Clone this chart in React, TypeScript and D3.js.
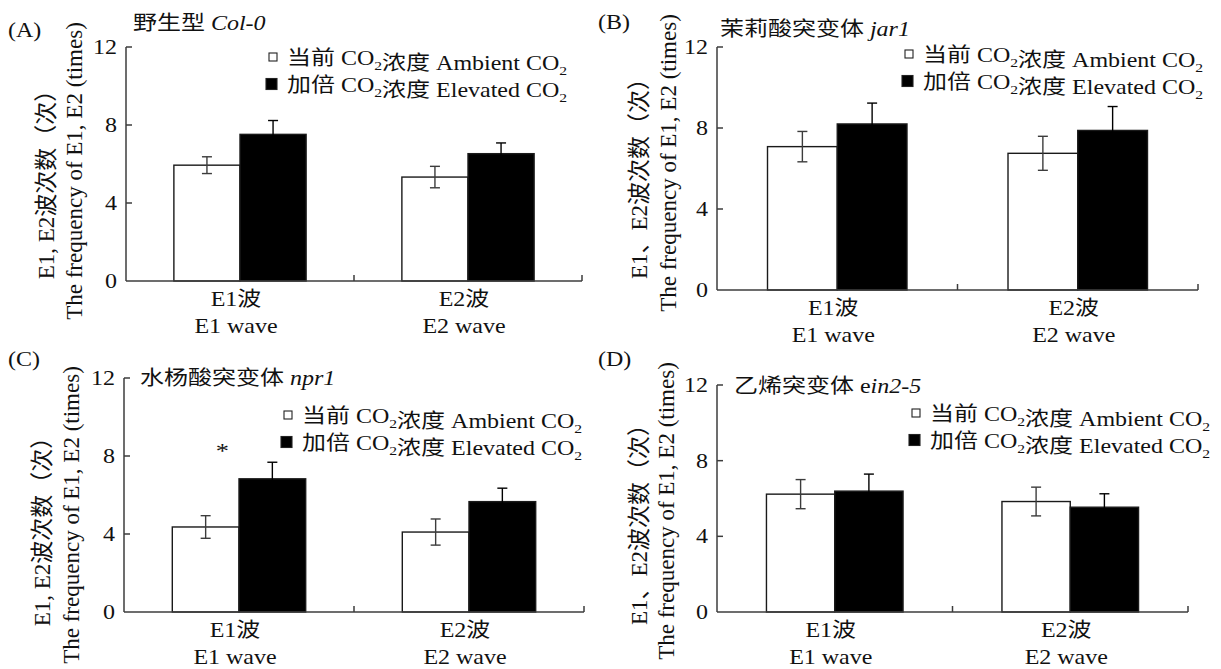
import React, { useEffect, useRef } from 'react';
import * as d3 from 'd3';

// categories / tick labels
const categories = ['E1', 'E2'];
const categoryCn = ['E1波', 'E2波'];
const categoryEn = ['E1 wave', 'E2 wave'];
const treatments = ['ambient', 'elevated'];
const yTicks = [0, 4, 8, 12];

// (A) Col-0
const col0Ambient = [5.94, 5.33];
const col0AmbientSe = [0.43, 0.55];
const col0Elevated = [7.52, 6.53];
const col0ElevatedSe = [0.71, 0.55];
// (B) jar1
const jar1Ambient = [7.08, 6.75];
const jar1AmbientSe = [0.75, 0.84];
const jar1Elevated = [8.2, 7.88];
const jar1ElevatedSe = [1.03, 1.18];
// (C) npr1
const npr1Ambient = [4.36, 4.1];
const npr1AmbientSe = [0.58, 0.67];
const npr1Elevated = [6.83, 5.66];
const npr1ElevatedSe = [0.85, 0.69];
const npr1Marks = ['*', ''];
// (D) ein2-5
const ein2Ambient = [6.23, 5.84];
const ein2AmbientSe = [0.77, 0.76];
const ein2Elevated = [6.39, 5.54];
const ein2ElevatedSe = [0.9, 0.71];

const letters = ['(A)', '(B)', '(C)', '(D)'];
const titleCn = ['野生型 ', '茉莉酸突变体 ', '水杨酸突变体 ', '乙烯突变体 e'];
const titleGene = ['Col-0', 'jar1', 'npr1', 'in2-5'];
const yLabelCn = ['E1, E2波次数（次）', 'E1、E2波次数（次）', 'E1, E2波次数（次）', 'E1、E2波次数（次）'];
const yLabelEn = 'The frequency of E1, E2 (times)';

const panels = [
  { mean: [col0Ambient, col0Elevated], se: [col0AmbientSe, col0ElevatedSe], marks: ['', ''] },
  { mean: [jar1Ambient, jar1Elevated], se: [jar1AmbientSe, jar1ElevatedSe], marks: ['', ''] },
  { mean: [npr1Ambient, npr1Elevated], se: [npr1AmbientSe, npr1ElevatedSe], marks: npr1Marks },
  { mean: [ein2Ambient, ein2Elevated], se: [ein2AmbientSe, ein2ElevatedSe], marks: ['', ''] },
];

// where each panel sits on the page
const layout = [
  { left: 126, right: 582, y0: 281, y12: 47, letterX: 8, letterY: 37, titleX: 133, titleY: 30, legX: 277, legY: 57, lab1X: 46, lab2X: 74, lab1Y: 179, lab2Y: 171 },
  { left: 717, right: 1198, y0: 290, y12: 47, letterX: 598, letterY: 29, titleX: 720, titleY: 36, legX: 913, legY: 54, lab1X: 639, lab2X: 668, lab1Y: 173, lab2Y: 163 },
  { left: 124, right: 584, y0: 612, y12: 378, letterX: 8, letterY: 366, titleX: 140, titleY: 385, legX: 292, legY: 415, lab1X: 42, lab2X: 71, lab1Y: 526, lab2Y: 515 },
  { left: 717, right: 1188, y0: 612, y12: 385, letterX: 598, letterY: 366, titleX: 734, titleY: 393, legX: 920, legY: 413, lab1X: 639, lab2X: 666, lab1Y: 519, lab2Y: 511 },
];

const FONT = "'Liberation Serif', 'Times New Roman', 'Noto Sans CJK SC', serif";
const AXIS = '#3c3c3c';
const STRETCH = 1.2; // the source figure is drawn a little wide

export default function App() {
  const ref = useRef<SVGSVGElement | null>(null);

  useEffect(() => {
    const svg = d3.select(ref.current);
    svg.selectAll('*').remove();
    panels.forEach((p, i) => drawPanel(svg, p, layout[i], i));
  }, []);

  return (
    <svg ref={ref} width={1221} height={669}
      style={{ position: 'absolute', left: 0, top: 0, background: '#fff' }} />
  );
}

// horizontal text, widened like the original
function htext(g: any, x: number, y: number, size: number, anchor = 'start') {
  return g.append('text')
    .attr('transform', `translate(${x},${y}) scale(${STRETCH},1)`)
    .attr('text-anchor', anchor)
    .attr('font-size', size);
}

function co2Text(sel: any, parts: string[]) {
  // each piece but the last is followed by CO with a subscript 2
  parts.forEach((t, k) => {
    sel.append('tspan').text(t);
    if (k < parts.length - 1) {
      sel.append('tspan').text('CO');
      sel.append('tspan').attr('font-size', 13).attr('dy', 5).text('2');
      sel.append('tspan').attr('dy', -5).text('');
    }
  });
}

function drawPanel(svg: any, p: any, L: any, idx: number) {
  const g = svg.append('g').attr('font-family', FONT).attr('fill', '#111');

  const y = d3.scaleLinear().domain([0, 12]).range([L.y0, L.y12]);
  const x = d3.scaleBand<string>().domain(categories).range([L.left, L.right])
    .paddingInner(0.42).paddingOuter(0.21);
  const xt = d3.scaleBand<string>().domain(treatments).range([0, x.bandwidth()]);

  // bars
  categories.forEach((c, ci) => {
    treatments.forEach((t, ti) => {
      const v = p.mean[ti][ci];
      g.append('rect')
        .attr('x', (x(c) as number) + (xt(t) as number))
        .attr('y', y(v))
        .attr('width', xt.bandwidth())
        .attr('height', y(0) - y(v))
        .attr('fill', ti === 0 ? '#fff' : '#000')
        .attr('stroke', '#1a1a1a')
        .attr('stroke-width', 1.4);
    });
  });

  // error bars
  categories.forEach((c, ci) => {
    treatments.forEach((t, ti) => {
      const v = p.mean[ti][ci];
      const e = p.se[ti][ci];
      const cx = (x(c) as number) + (xt(t) as number) + xt.bandwidth() / 2;
      const col = ti === 0 ? AXIS : '#000';
      g.append('line').attr('x1', cx).attr('x2', cx).attr('y1', y(v - e)).attr('y2', y(v + e))
        .attr('stroke', col).attr('stroke-width', 1.4);
      [v - e, v + e].forEach(w => {
        g.append('line').attr('x1', cx - 5).attr('x2', cx + 5).attr('y1', y(w)).attr('y2', y(w))
          .attr('stroke', col).attr('stroke-width', 1.4);
      });
    });
    if (p.marks[ci]) {
      const top = p.mean[1][ci] + p.se[1][ci];
      htext(g, (x(c) as number) + xt.bandwidth() * 0.75, y(top + 0.75) + 10, 22, 'middle')
        .text(p.marks[ci]);
    }
  });

  // axes
  g.append('line').attr('x1', L.left).attr('x2', L.left).attr('y1', y(0)).attr('y2', y(12))
    .attr('stroke', AXIS).attr('stroke-width', 1.5);
  g.append('line').attr('x1', L.left).attr('x2', L.right).attr('y1', y(0)).attr('y2', y(0))
    .attr('stroke', AXIS).attr('stroke-width', 1.5);
  yTicks.forEach(t => {
    if (t > 0) {
      g.append('line').attr('x1', L.left).attr('x2', L.left + 6).attr('y1', y(t)).attr('y2', y(t))
        .attr('stroke', AXIS).attr('stroke-width', 1.5);
    }
    htext(g, L.left - 9, y(t) + 7, 20, 'end').text(t);
  });
  // x ticks at the band boundaries, pointing up
  const edges = [x.range()[0] + x.step() * (1 - 0.42 / 2 + 0.21), x.range()[1]];
  edges.forEach(tx => {
    g.append('line').attr('x1', tx).attr('x2', tx).attr('y1', y(0)).attr('y2', y(0) - 6)
      .attr('stroke', AXIS).attr('stroke-width', 1.5);
  });

  // category labels
  categories.forEach((c, ci) => {
    const cx = (x(c) as number) + x.bandwidth() / 2 - 4;
    htext(g, cx, y(0) + 25, 20, 'middle').text(categoryCn[ci]);
    htext(g, cx, y(0) + 52, 20, 'middle').text(categoryEn[ci]);
  });

  // y labels
  g.append('text')
    .attr('transform', `translate(${L.lab1X},${L.lab1Y}) rotate(-90)`)
    .attr('text-anchor', 'middle').attr('dominant-baseline', 'central')
    .attr('font-size', 23).text(yLabelCn[idx]);
  g.append('text')
    .attr('transform', `translate(${L.lab2X},${L.lab2Y}) rotate(-90)`)
    .attr('text-anchor', 'middle').attr('dominant-baseline', 'central')
    .attr('font-size', 23).text(yLabelEn);

  // panel letter and title
  htext(g, L.letterX, L.letterY, 20).text(letters[idx]);
  const title = htext(g, L.titleX, L.titleY, 20);
  title.append('tspan').text(titleCn[idx]);
  title.append('tspan').attr('font-style', 'italic').text(titleGene[idx]);

  // legend
  const rows = [
    { fill: '#fff', size: 8, cn: '当前 ', en: ' Ambient ' },
    { fill: '#000', size: 11, cn: '加倍 ', en: ' Elevated ' },
  ];
  rows.forEach((r, ri) => {
    const cy = L.legY + ri * 27;
    g.append('rect')
      .attr('x', L.legX - r.size).attr('y', cy - r.size / 2)
      .attr('width', r.size).attr('height', r.size)
      .attr('fill', r.fill).attr('stroke', '#222').attr('stroke-width', 1.1);
    const tx = htext(g, L.legX + 10, cy + 8, 20);
    co2Text(tx, [r.cn, '浓度' + r.en, '']);
  });
}
